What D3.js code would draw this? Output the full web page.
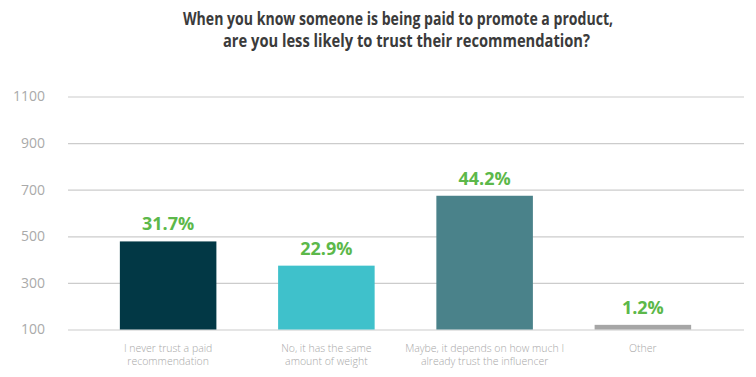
<!DOCTYPE html>
<html>
<head>
<meta charset="utf-8">
<script src="https://cdn.jsdelivr.net/npm/d3@7"></script>
<style>
  html, body { margin: 0; padding: 0; background: #fff; }
  svg { display: block; }
</style>
</head>
<body>
<svg id="chart" width="756" height="377"></svg>
<script>
const categories = [
  ["I never trust a paid", "recommendation"],
  ["No, it has the same", "amount of weight"],
  ["Maybe, it depends on how much I", "already trust the influencer"],
  ["Other"]
];
const values = [478, 374, 674, 120];
const percentLabels = ["31.7%", "22.9%", "44.2%", "1.2%"];
const barColors = ["#023845", "#3fc1cb", "#4a828a", "#a6a6a6"];
const tickValues = [100, 300, 500, 700, 900, 1100];
const titleLines = [
  "When you know someone is being paid to promote a product,",
  "are you less likely to trust their recommendation?"
];

const svg = d3.select("#chart");

const y = d3.scaleLinear().domain([100, 1100]).range([329.5, 96.5]);
const x = d3.scaleBand()
  .domain(d3.range(categories.length))
  .range([89, 722])
  .paddingInner(0.39)
  .paddingOuter(0.195);

// Title
const titleSpecs = [
  { x: 183, y: 25, len: 430 },
  { x: 223, y: 47, len: 367 }
];
svg.selectAll("text.title")
  .data(titleLines)
  .join("text")
  .attr("class", "title")
  .attr("x", (d, i) => titleSpecs[i].x)
  .attr("y", (d, i) => titleSpecs[i].y)
  .attr("textLength", (d, i) => titleSpecs[i].len)
  .attr("lengthAdjust", "spacingAndGlyphs")
  .attr("font-family", "'Open Sans', sans-serif")
  .attr("font-weight", "bold")
  .attr("font-size", 17)
  .attr("fill", "#3b3b3b")
  .text(d => d);

// Gridlines
const yAxis = d3.axisLeft(y)
  .tickValues(tickValues)
  .tickSize(-(744 - 68))
  .tickPadding(23)
  .tickFormat(d3.format("d"));

const gAxis = svg.append("g")
  .attr("transform", "translate(68,0)")
  .call(yAxis);
gAxis.select(".domain").remove();
gAxis.selectAll(".tick line")
  .attr("stroke", "#cccccc")
  .attr("stroke-width", 1.2);
gAxis.selectAll(".tick text")
  .attr("font-family", "'Open Sans', sans-serif")
  .attr("font-size", 14)
  .attr("fill", "#aaaaaa");

// Bars
svg.selectAll("rect.bar")
  .data(values)
  .join("rect")
  .attr("class", "bar")
  .attr("x", (d, i) => x(i))
  .attr("y", d => y(d))
  .attr("width", x.bandwidth())
  .attr("height", d => y(100) - y(d))
  .attr("fill", (d, i) => barColors[i]);

// Percent labels
svg.selectAll("text.pct")
  .data(values)
  .join("text")
  .attr("class", "pct")
  .attr("x", (d, i) => x(i) + x.bandwidth() / 2)
  .attr("y", d => y(d) - 11)
  .attr("text-anchor", "middle")
  .attr("font-family", "'Open Sans', sans-serif")
  .attr("font-weight", "bold")
  .attr("font-size", 18)
  .attr("fill", "#5cb84a")
  .text((d, i) => percentLabels[i]);

// Category labels
const catG = svg.selectAll("text.cat")
  .data(categories)
  .join("text")
  .attr("class", "cat")
  .attr("text-anchor", "middle")
  .attr("font-family", "'Open Sans', sans-serif")
  .attr("font-weight", 300)
  .attr("font-size", 10.5)
  .attr("fill", "#a8a8a8");
catG.each(function(lines, i) {
  d3.select(this).selectAll("tspan")
    .data(lines)
    .join("tspan")
    .attr("x", x(i) + x.bandwidth() / 2)
    .attr("y", (d, j) => 352 + j * 13)
    .text(d => d);
});
</script>
</body>
</html>
